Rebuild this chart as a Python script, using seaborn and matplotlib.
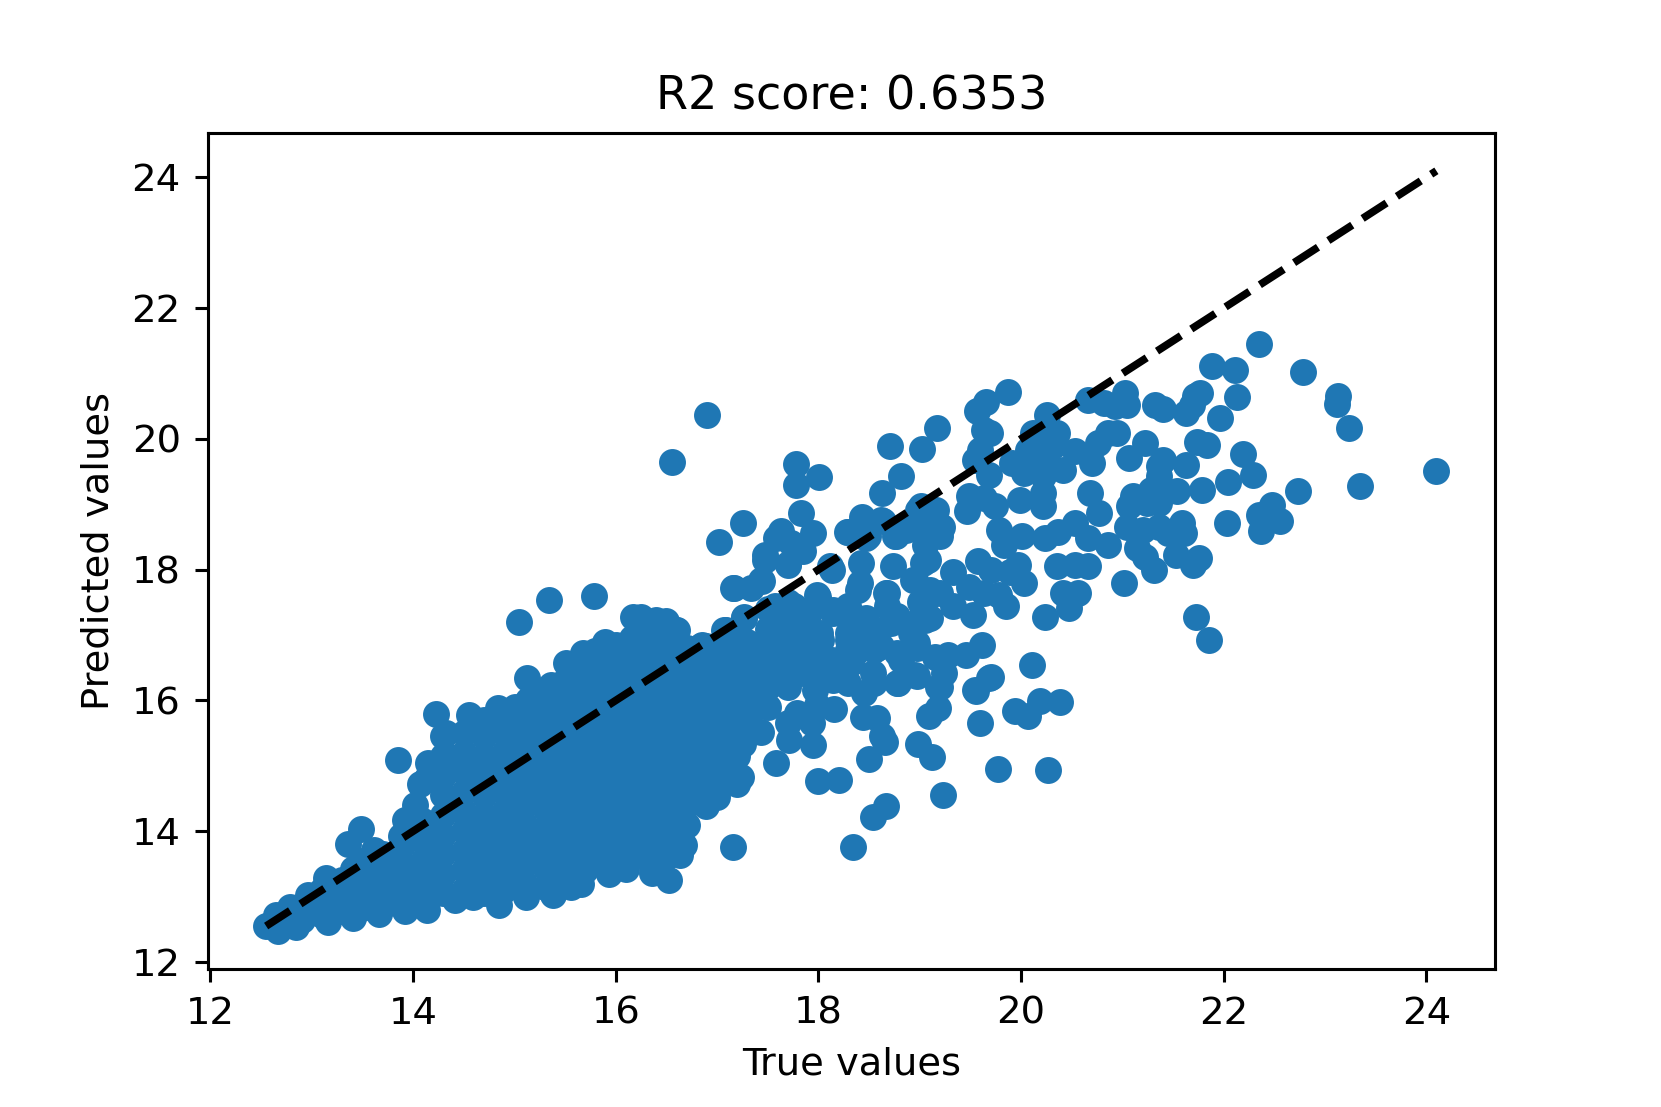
import matplotlib

matplotlib.use("Agg")

import matplotlib.pyplot as plt
import pandas as pd
import seaborn as sns

# (true, predicted)
outlier_points = [
    (24.10, 19.51), (23.35, 19.28), (23.24, 20.17), (23.13, 20.65), (23.12, 20.53), (22.78, 21.02),
    (22.35, 21.45), (21.89, 21.11), (22.11, 21.06), (22.13, 20.64), (21.96, 20.32), (21.77, 20.70),
    (21.72, 20.65), (21.69, 20.52), (21.63, 20.40), (21.40, 20.45), (21.32, 20.52), (21.03, 20.70),
    (21.05, 20.52), (20.82, 20.55), (20.66, 20.60), (20.93, 20.50), (20.95, 20.09), (20.86, 20.09),
    (21.22, 19.94), (21.07, 19.71), (21.40, 19.68), (21.36, 19.58), (21.63, 19.60), (21.74, 19.96),
    (21.84, 19.91), (20.76, 19.94), (20.53, 19.81), (20.70, 19.63), (20.36, 20.09), (20.26, 20.37),
    (20.12, 20.09), (19.87, 20.72), (19.65, 20.56), (19.57, 20.42), (19.64, 20.14), (19.69, 20.09),
    (19.60, 19.83), (19.55, 19.68), (19.68, 19.45), (19.91, 19.63), (20.07, 19.83), (20.16, 19.58),
    (20.24, 19.73), (20.03, 19.48), (20.41, 19.53), (20.22, 19.43), (20.32, 19.89), (19.17, 20.16),
    (18.71, 19.89), (19.02, 19.85), (18.82, 19.44), (18.63, 19.17), (18.01, 19.42), (17.78, 19.61),
    (17.78, 19.30), (22.73, 19.21), (22.19, 19.77), (22.29, 19.45), (22.04, 19.34), (21.79, 19.22),
    (21.54, 19.21), (21.36, 19.43), (21.38, 19.27), (21.28, 19.22), (21.11, 19.12), (21.07, 18.97),
    (21.36, 19.02), (21.24, 19.02), (21.05, 18.66), (21.20, 18.61), (21.36, 18.66), (21.59, 18.71),
    (21.61, 18.56), (21.45, 18.56), (21.15, 18.33), (21.22, 18.20), (21.31, 17.99), (21.53, 18.23),
    (21.76, 18.18), (21.70, 18.07), (22.03, 18.71), (22.35, 18.84), (22.48, 18.99), (22.56, 18.75),
    (22.37, 18.59), (21.02, 17.80), (21.73, 17.27), (21.86, 16.92), (20.68, 19.18), (20.77, 18.87),
    (20.53, 18.72), (20.37, 18.58), (20.24, 18.48), (20.01, 18.52), (19.78, 18.61), (19.83, 18.38),
    (20.66, 18.48), (20.86, 18.38), (19.99, 19.07), (20.22, 18.97), (20.22, 19.17), (19.49, 19.12),
    (19.47, 18.89), (19.64, 19.09), (19.74, 18.97), (19.97, 18.07), (20.03, 17.80), (19.89, 17.97),
    (19.70, 18.00), (19.58, 18.13), (19.33, 17.97), (20.36, 18.05), (20.53, 18.07), (20.66, 18.06),
    (20.41, 17.64), (20.56, 17.65), (20.47, 17.41), (20.24, 17.27), (19.85, 17.44), (19.78, 17.62),
    (19.53, 17.31), (19.33, 17.44), (19.10, 17.26), (19.00, 17.51), (19.20, 17.64), (19.49, 17.74),
    (19.64, 17.64), (18.95, 17.84), (19.10, 17.69), (19.08, 18.15), (19.05, 18.38), (19.20, 18.51),
    (19.22, 18.66), (19.16, 18.92), (19.01, 18.97), (19.06, 18.66), (18.87, 18.61), (18.76, 18.51),
    (18.62, 18.76), (18.43, 18.81), (18.29, 18.58), (18.47, 18.48), (17.95, 18.56), (17.83, 18.86),
    (17.83, 18.30), (18.12, 18.05), (18.42, 18.10), (18.74, 18.05), (18.93, 17.84), (18.68, 17.64),
    (18.68, 17.44), (18.41, 17.80), (17.99, 17.62), (18.29, 17.44), (18.14, 17.39), (18.47, 17.26),
    (18.76, 17.28), (18.29, 17.03), (18.02, 17.03), (18.58, 17.03), (18.91, 17.03), (18.97, 16.80),
    (18.58, 16.80), (18.29, 16.77), (17.99, 16.82), (17.87, 16.52), (18.25, 16.36), (18.54, 16.42),
    (18.79, 16.26), (18.95, 16.39), (19.28, 16.70), (19.46, 16.70), (19.62, 16.85), (20.11, 16.54),
    (19.24, 16.42), (19.20, 16.21), (19.68, 16.35), (19.55, 16.16), (17.97, 16.16), (19.70, 16.36),
    (19.56, 16.14), (19.18, 15.88), (19.09, 15.76), (19.94, 15.84), (20.07, 15.77), (20.19, 15.99),
    (20.39, 15.98), (19.60, 15.65), (18.98, 15.34), (19.12, 15.14), (19.77, 14.95), (20.27, 14.93),
    (19.23, 14.56), (18.67, 14.39), (18.54, 14.22), (18.34, 13.76), (17.16, 13.76), (18.50, 15.11),
    (18.66, 15.36), (18.63, 15.45), (18.58, 15.73), (18.44, 15.75), (18.45, 16.11), (18.15, 15.87),
    (17.99, 15.93), (18.20, 14.79), (18.00, 14.77), (17.58, 15.05), (17.95, 15.32), (17.71, 15.40),
    (17.70, 15.65), (17.94, 15.65), (17.79, 15.81), (17.43, 15.52), (17.25, 15.35),
    (16.56, 19.65), (16.90, 20.37),
]

mid_points = [
    (17.26, 18.72), (17.02, 18.42), (17.63, 18.59), (17.58, 18.48), (17.47, 18.23), (17.70, 18.08),
    (17.85, 18.28), (17.73, 18.41), (17.17, 17.72), (17.34, 17.72), (17.44, 17.82), (18.28, 18.57),
    (18.64, 18.74), (18.49, 18.51), (18.77, 18.51), (18.98, 18.92), (18.13, 18.00), (19.03, 18.10),
    (18.67, 17.64), (18.39, 17.69), (18.00, 17.59), (18.14, 17.34), (17.27, 17.26), (17.09, 17.08),
    (16.84, 16.83), (17.57, 17.44), (17.76, 17.44), (18.36, 17.28), (18.78, 17.29), (19.08, 17.59),
    (19.05, 17.23), (17.86, 17.03), (18.03, 16.93), (18.29, 16.93), (18.55, 17.08), (18.97, 16.88),
    (18.82, 16.62), (18.36, 16.72), (18.62, 16.83), (18.13, 16.62), (17.63, 16.77), (17.86, 16.57),
    (17.47, 16.83), (17.24, 16.88), (17.10, 16.62), (17.40, 16.47), (17.67, 16.32), (18.00, 16.27),
    (18.29, 16.27), (18.55, 16.27), (18.78, 16.27), (18.97, 16.37), (19.18, 16.20), (19.15, 16.67),
    (16.41, 17.18), (16.61, 17.08), (16.25, 17.28), (18.14, 16.32), (18.42, 16.88), (18.72, 17.18),
    (19.01, 17.28), (18.78, 16.72), (18.55, 16.77), (18.32, 16.57), (18.07, 16.62), (17.86, 17.13),
    (17.56, 16.88), (17.83, 16.88), (17.83, 16.42), (17.56, 16.42), (17.33, 16.26), (17.07, 17.08),
    (16.89, 16.83), (17.04, 16.26), (17.33, 15.81), (17.04, 15.75), (17.00, 15.24),
]

edge_points = [
    (15.34, 17.54), (15.79, 17.60), (15.05, 17.20), (16.17, 17.28), (16.40, 17.23), (16.60, 17.08),
    (16.50, 17.21), (16.85, 16.85), (17.08, 17.05), (17.27, 17.28), (17.16, 17.72), (17.43, 17.84),
    (17.70, 18.07), (17.47, 18.15), (15.12, 16.35), (15.89, 16.90), (15.68, 16.72), (15.51, 16.57),
    (16.16, 16.95), (15.36, 16.24), (15.13, 16.01), (15.01, 15.90), (14.84, 15.88), (14.55, 15.78),
    (14.23, 15.80), (14.33, 15.50), (14.35, 15.14), (13.85, 15.09), (14.14, 14.81), (14.07, 14.73),
    (14.02, 14.40), (13.92, 14.17), (13.88, 13.92), (13.49, 14.03), (13.36, 13.81), (13.61, 13.71),
    (13.41, 13.43), (13.14, 13.28), (12.96, 13.02), (12.79, 12.84), (12.65, 12.72), (12.55, 12.55),
    (12.67, 12.48), (12.84, 12.54), (13.16, 12.61), (13.41, 12.67), (13.66, 12.74), (13.92, 12.78),
    (14.14, 12.80), (14.41, 12.95), (14.59, 12.99), (14.85, 12.87), (15.11, 12.99), (15.38, 13.02),
    (15.56, 13.15), (15.66, 13.19), (15.93, 13.35), (16.10, 13.43), (16.36, 13.36), (16.53, 13.25),
    (16.63, 13.63), (16.67, 13.79), (16.89, 14.38), (17.00, 14.53), (17.20, 14.73), (17.24, 14.83),
    (17.26, 15.34), (14.30, 15.15), (14.30, 15.45), (14.70, 15.70), (14.90, 15.75), (15.15, 15.85),
    (15.25, 16.05), (15.60, 16.55), (15.80, 16.75), (16.00, 16.85), (14.15, 15.05), (14.20, 14.95),
]

core_points = [
    (12.90, 12.65), (12.90, 12.85), (13.10, 12.72), (13.10, 12.95), (13.10, 13.10),
    (13.30, 12.78), (13.30, 13.00), (13.30, 13.25), (13.50, 12.82), (13.50, 13.05), (13.50, 13.30),
    (13.50, 13.55), (13.70, 12.85), (13.70, 13.10), (13.70, 13.40), (13.70, 13.65),
    (13.90, 12.90), (13.90, 13.20), (13.90, 13.50), (13.90, 13.80), (14.10, 12.95), (14.10, 13.25),
    (14.10, 13.55), (14.10, 13.85), (14.10, 14.15), (14.30, 13.05), (14.30, 13.35), (14.30, 13.65),
    (14.30, 13.95), (14.30, 14.25), (14.30, 14.55), (14.30, 14.85), (14.50, 13.10), (14.50, 13.40),
    (14.50, 13.70), (14.50, 14.00), (14.50, 14.30), (14.50, 14.60), (14.50, 14.90), (14.50, 15.20),
    (14.50, 15.50), (14.70, 13.05), (14.70, 13.35), (14.70, 13.65), (14.70, 13.95), (14.70, 14.25),
    (14.70, 14.55), (14.70, 14.85), (14.70, 15.15), (14.70, 15.45), (14.90, 13.10), (14.90, 13.40),
    (14.90, 13.70), (14.90, 14.00), (14.90, 14.30), (14.90, 14.60), (14.90, 14.90), (14.90, 15.20),
    (14.90, 15.50), (15.10, 13.20), (15.10, 13.50), (15.10, 13.80), (15.10, 14.10), (15.10, 14.40),
    (15.10, 14.70), (15.10, 15.00), (15.10, 15.30), (15.10, 15.60), (15.30, 13.15), (15.30, 13.45),
    (15.30, 13.75), (15.30, 14.05), (15.30, 14.35), (15.30, 14.65), (15.30, 14.95), (15.30, 15.25),
    (15.30, 15.55), (15.30, 15.85), (15.50, 13.30), (15.50, 13.60), (15.50, 13.90), (15.50, 14.20),
    (15.50, 14.50), (15.50, 14.80), (15.50, 15.10), (15.50, 15.40), (15.50, 15.70), (15.50, 16.00),
    (15.50, 16.30), (15.70, 13.40), (15.70, 13.70), (15.70, 14.00), (15.70, 14.30), (15.70, 14.60),
    (15.70, 14.90), (15.70, 15.20), (15.70, 15.50), (15.70, 15.80), (15.70, 16.10), (15.70, 16.40),
    (15.90, 13.60), (15.90, 13.90), (15.90, 14.20), (15.90, 14.50), (15.90, 14.80), (15.90, 15.10),
    (15.90, 15.40), (15.90, 15.70), (15.90, 16.00), (15.90, 16.30), (15.90, 16.60), (16.10, 13.70),
    (16.10, 14.00), (16.10, 14.30), (16.10, 14.60), (16.10, 14.90), (16.10, 15.20), (16.10, 15.50),
    (16.10, 15.80), (16.10, 16.10), (16.10, 16.40), (16.10, 16.70), (16.30, 13.60), (16.30, 13.90),
    (16.30, 14.20), (16.30, 14.50), (16.30, 14.80), (16.30, 15.10), (16.30, 15.40), (16.30, 15.70),
    (16.30, 16.00), (16.30, 16.30), (16.30, 16.60), (16.30, 16.90), (16.50, 13.60), (16.50, 13.90),
    (16.50, 14.20), (16.50, 14.50), (16.50, 14.80), (16.50, 15.10), (16.50, 15.40), (16.50, 15.70),
    (16.50, 16.00), (16.50, 16.30), (16.50, 16.60), (16.50, 16.90), (16.70, 14.10), (16.70, 14.40),
    (16.70, 14.70), (16.70, 15.00), (16.70, 15.30), (16.70, 15.60), (16.70, 15.90), (16.70, 16.20),
    (16.70, 16.50), (16.70, 16.80), (16.90, 14.70), (16.90, 15.00), (16.90, 15.30), (16.90, 15.60),
    (16.90, 15.90), (16.90, 16.20), (16.90, 16.50), (17.10, 15.00), (17.10, 15.30), (17.10, 15.60),
    (17.10, 15.90), (17.10, 16.20), (17.10, 16.50), (17.10, 16.80), (17.30, 15.70), (17.30, 16.00),
    (17.30, 16.30), (17.30, 16.60), (17.30, 16.90), (17.50, 15.90), (17.50, 16.20), (17.50, 16.50),
    (17.50, 16.80), (17.50, 17.10), (17.70, 16.20), (17.70, 16.50), (17.70, 16.85), (17.70, 17.15),
    (17.70, 17.50), (17.90, 17.30), (17.50, 17.40),
    (16.20, 13.75), (16.20, 14.15), (16.20, 14.45), (16.20, 14.75), (16.20, 15.05), (16.20, 15.35),
    (16.20, 15.65), (16.20, 15.95), (16.20, 16.25), (16.20, 16.55), (16.40, 13.75), (16.40, 14.05),
    (16.40, 14.35), (16.40, 14.65), (16.40, 14.95), (16.40, 15.25), (16.40, 15.55), (16.40, 15.85),
    (16.40, 16.15), (16.40, 16.45), (16.40, 16.75), (16.60, 14.05), (16.60, 14.35), (16.60, 14.65),
    (16.60, 14.95), (16.60, 15.25), (16.60, 15.55), (16.60, 15.85), (16.60, 16.15), (16.60, 16.45),
    (16.60, 16.75), (16.80, 14.55), (16.80, 14.85), (16.80, 15.15), (16.80, 15.45), (16.80, 15.75),
    (16.80, 16.05), (16.80, 16.35), (16.80, 16.65), (17.00, 14.85), (17.00, 15.45), (17.00, 16.05),
    (17.00, 16.40), (17.00, 16.75), (17.20, 15.15), (17.20, 15.50), (17.20, 15.80), (17.20, 16.15),
    (17.20, 16.45),
]

r2_text = "R2 score: 0.6353"
line_ends = [12.55, 24.10]

df = pd.DataFrame(outlier_points + mid_points + edge_points + core_points, columns=["true", "pred"])

fig, ax = plt.subplots(figsize=(1661 / 277, 1107 / 277), dpi=277)
fig.subplots_adjust(bottom=0.125)
sns.scatterplot(data=df, x="true", y="pred", s=36, color="#1f77b4", edgecolor="#1f77b4", linewidth=1, ax=ax)
ax.plot(line_ends, line_ends, "k--", lw=2)
ax.set_title(r2_text)
ax.set_xlabel("True values")
ax.set_ylabel("Predicted values")
fig.savefig("out.png", dpi=277)
